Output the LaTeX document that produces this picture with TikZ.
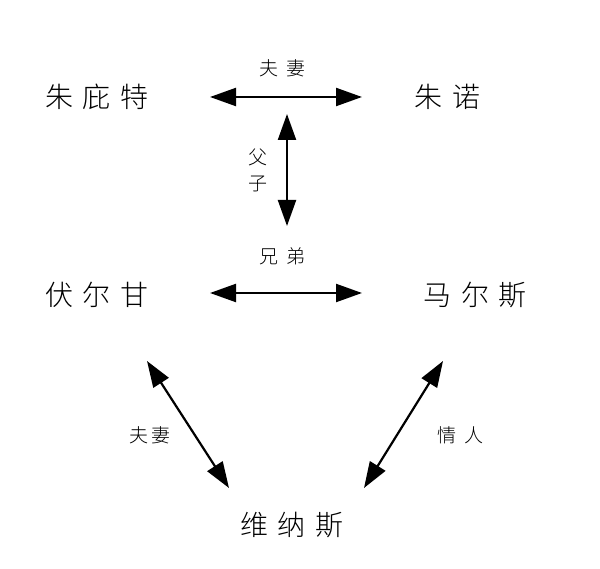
\documentclass[tikz,border=0pt]{standalone}
\usepackage{fontspec}
\newfontfamily\cjk{Noto Sans CJK SC Light}
\usetikzlibrary{arrows.meta}
\begin{document}
\begin{tikzpicture}[x=1pt,y=-1pt,
  person/.style={font=\cjk\fontsize{28}{32}\selectfont},
  lab/.style={font=\cjk\fontsize{19}{22}\selectfont},
  rel/.style={line width=2.2pt,{Stealth[length=26pt,width=18pt,inset=0pt]}-{Stealth[length=26pt,width=18pt,inset=0pt]}}]
\useasboundingbox (0,0) rectangle (600,569);
\node[person] (jup) at (97,97) {朱\hspace{10pt}庇\hspace{10pt}特};
\node[person] (jun) at (447,97) {朱\hspace{10pt}诺};
\node[person] (vul) at (97,295) {伏\hspace{10pt}尔\hspace{10pt}甘};
\node[person] (mar) at (475,295) {马\hspace{10pt}尔\hspace{10pt}斯};
\node[person] (ven) at (292,525) {维\hspace{10pt}纳\hspace{10pt}斯};
\coordinate (a1) at (210,97); \coordinate (a2) at (362,97);
\coordinate (b1) at (287,114); \coordinate (b2) at (287,226);
\coordinate (c1) at (210,293); \coordinate (c2) at (362,293);
\coordinate (d1) at (147,361); \coordinate (d2) at (229,488);
\coordinate (e1) at (443,361); \coordinate (e2) at (364,488);
\draw[rel] (a1) -- (a2);
\draw[rel] (b1) -- (b2);
\draw[rel] (c1) -- (c2);
\draw[rel] (d1) -- (d2);
\draw[rel] (e1) -- (e2);
\node[lab] (l1) at (282,68) {夫\hspace{8pt}妻};
\node[lab,align=center] (l2) at (258,170) {父\\[4pt]子};
\node[lab] (l3) at (282,256) {兄\hspace{8pt}弟};
\node[lab] (l4) at (150,435) {夫\hspace{3pt}妻};
\node[lab] (l5) at (460,435) {情\hspace{8pt}人};
\end{tikzpicture}
\end{document}
